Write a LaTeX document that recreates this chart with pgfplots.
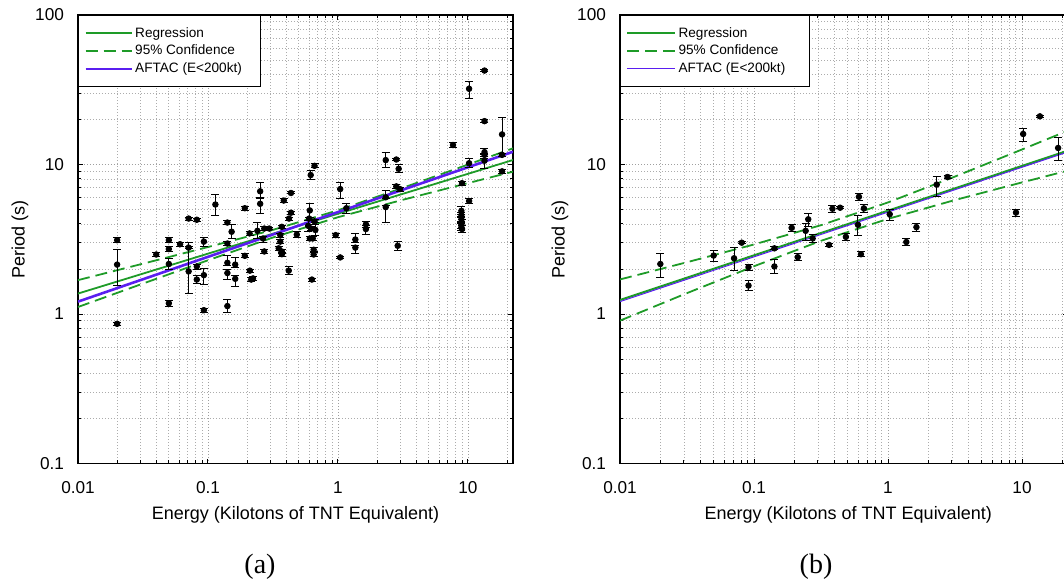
\documentclass[border=0pt]{standalone}
\usepackage{pgfplots}
\pgfplotsset{compat=1.18}
\usepackage{fontspec}
\setmainfont{Liberation Sans}
\newfontfamily\serifcap{Liberation Serif}
\definecolor{reggreen}{RGB}{30,155,40}
\definecolor{aftac}{RGB}{90,30,240}

\pgfplotsset{
    scale only axis,
    xmin=0.01, xmax=22.2, ymin=0.1, ymax=100,
    xtick={0.01,0.1,1,10}, xticklabels={0.01,0.1,1,10},
    ytick={0.1,1,10,100}, yticklabels={0.1,1,10,100},
    minor xtick={0.02,0.03,0.04,0.05,0.06,0.07,0.08,0.09,0.2,0.3,0.4,0.5,0.6,0.7,0.8,0.9,2,3,4,5,6,7,8,9,20},
    minor ytick={0.2,0.3,0.4,0.5,0.6,0.7,0.8,0.9,2,3,4,5,6,7,8,9,20,30,40,50,60,70,80,90},
    grid=both,
    major grid style={gray!75, line width=0.4pt, dash pattern=on 0.4pt off 1.1pt},
    minor grid style={gray!65, line width=0.4pt, dash pattern=on 0.4pt off 1.1pt},
    tick align=inside, major tick length=2.5pt, minor tick length=1.6pt,
    tick style={black, line width=0.5pt},
    axis line style={black, line width=0.7pt},
    ticklabel style={font=\fontsize{8.6}{10}\selectfont},
    xticklabel style={yshift=-5.5pt},
    yticklabel style={xshift=-3.5pt},
    every axis label/.append style={font=\fontsize{9}{11}\selectfont},
    legend style={at={(0,1)}, anchor=north west, draw=black, fill=white,
      inner xsep=3pt, inner ysep=4.5pt, row sep=0pt,
      font=\fontsize{6.8}{8}\selectfont,
      nodes={inner sep=1.1pt, text height=5.2pt, text depth=1.5pt}},
    legend cell align=left,
}
\pgfplotsset{
  pts/.style={only marks, mark=*, mark size=1.4pt, black, forget plot,
    mark options={solid, fill=black},
    error bars/y dir=both, error bars/y explicit,
    error bars/error bar style={black, line width=0.5pt, solid},
    error bars/error mark options={rotate=90, mark size=2pt, black, line width=0.5pt, solid}},
}

\begin{document}
\begin{tikzpicture}
\useasboundingbox (0,0) rectangle (532pt,292pt);
\clip (0,0) rectangle (532pt,292pt);

% ---------------- panel (a)
\begin{axis}[xmode=log, ymode=log, width=217.5pt, height=224.25pt,
  at={(39pt,60.25pt)}, anchor=south west,
  xlabel={Energy (Kilotons of TNT Equivalent)},
  ylabel={Period (s)},
  xlabel style={at={(axis description cs:0.5,-0.1136)}, anchor=center},
  ylabel style={at={(axis description cs:-0.1335,0.5)}, anchor=center}]
\addplot[reggreen, line width=0.9pt,
  legend image code/.code={\draw[reggreen, line width=0.9pt] (0pt,0pt) -- (23pt,0pt);}]
  coordinates {(0.01,1.37) (22.2,10.72)};
\addlegendentry{Regression}
\addplot[reggreen, line width=0.9pt, dash pattern=on 6pt off 3pt,
  legend image code/.code={\draw[reggreen, line width=0.9pt, dash pattern=on 6pt off 3pt] (0pt,0pt) -- (23pt,0pt);}]
  coordinates {
 (0.01,1.685) (0.0316,2.171) (0.1,2.805) (0.316,3.654) (1,4.941) (3.16,6.986) (10,9.99) (22.2,12.83)};
\addlegendentry{95\% Confidence}
\addplot[aftac, line width=1.3pt,
  legend image code/.code={\draw[aftac, line width=1.3pt] (0pt,0pt) -- (23pt,0pt);}]
  coordinates {(0.01,1.21) (22.2,12.17)};
\addlegendentry{AFTAC (E<200kt)\hspace*{5pt}}
\addplot[reggreen, line width=0.9pt, dash pattern=on 6pt off 3pt, forget plot] coordinates {
 (0.01,1.114) (0.0316,1.598) (0.1,2.288) (0.316,3.249) (1,4.442) (3.16,5.810) (10,7.510) (22.2,8.955)};
\addplot[pts] table[x=x, y=y, y error plus=ep, y error minus=em] {
x y ep em
0.02 3.12 0.12 0.12
0.02 2.14 0.55 0.58
0.02 0.86 0.02 0.02
0.040 2.50 0.08 0.08
0.05 3.12 0.12 0.12
0.05 2.72 0.10 0.10
0.05 2.16 0.18 0.18
0.05 1.18 0.05 0.05
0.061 2.93 0.10 0.10
0.071 4.35 0.10 0.10
0.082 4.27 0.10 0.10
0.071 2.78 0.05 0.05
0.071 1.93 1.08 0.56
0.082 2.08 0.08 0.08
0.082 1.70 0.10 0.10
0.093 3.05 0.20 0.20
0.093 1.82 0.21 0.24
0.093 1.06 0.03 0.03
0.114 5.40 0.86 0.83
0.141 4.09 0.10 0.10
0.152 3.55 0.41 0.35
0.141 2.96 0.10 0.10
0.141 2.20 0.26 0.10
0.141 1.88 0.10 0.18
0.141 1.13 0.12 0.10
0.162 2.14 0.23 0.10
0.162 1.72 0.10 0.19
0.192 5.10 0.15 0.15
0.209 3.46 0.10 0.10
0.192 2.45 0.08 0.08
0.210 1.95 0.05 0.05
0.215 1.70 0.05 0.05
0.222 1.73 0.05 0.05
0.252 6.62 0.98 0.72
0.252 5.46 0.58 0.77
0.240 3.60 0.50 0.40
0.271 3.73 0.10 0.10
0.265 3.20 0.10 0.20
0.271 2.62 0.08 0.08
0.296 3.73 0.08 0.08
0.383 5.74 0.15 0.15
0.435 6.45 0.10 0.10
0.435 4.76 0.10 0.10
0.420 4.35 0.10 0.10
0.370 3.83 0.10 0.10
0.360 3.37 0.10 0.10
0.360 3.05 0.10 0.10
0.370 2.62 0.08 0.08
0.370 2.51 0.08 0.08
0.350 2.75 0.08 0.08
0.418 1.95 0.12 0.12
0.482 3.40 0.15 0.15
0.607 4.93 0.53 0.48
0.600 4.35 0.10 0.10
0.590 3.89 0.30 0.30
0.620 3.73 0.10 0.10
0.660 4.17 0.10 0.10
0.670 3.65 0.30 0.30
0.607 3.20 0.10 0.10
0.640 3.20 0.10 0.10
0.650 2.69 0.08 0.08
0.650 2.50 0.08 0.08
0.630 1.70 0.04 0.04
0.617 8.50 0.60 0.60
0.660 9.80 0.30 0.30
0.960 3.37 0.10 0.10
1.04 6.85 0.75 0.90
1.04 2.39 0.05 0.05
1.16 5.10 0.40 0.40
1.36 3.15 0.30 0.15
1.36 2.78 0.10 0.25
1.64 3.98 0.20 0.10
1.64 3.70 0.10 0.30
2.33 10.7 1.30 1.15
2.33 6.04 0.64 0.10
2.33 5.19 0.10 1.11
2.81 10.8 0.20 0.20
2.93 9.36 0.60 0.50
2.81 7.14 0.20 0.20
3.00 6.85 0.20 0.20
2.88 2.86 0.20 0.20
7.67 13.5 0.60 0.60
9.00 7.50 0.25 0.25
8.90 4.90 0.30 0.30
8.90 4.60 0.20 0.20
8.90 4.30 0.20 0.20
8.95 4.10 0.20 0.20
8.90 3.95 0.20 0.20
8.90 3.80 0.20 0.20
9.00 3.70 0.20 0.20
10.2 10.2 0.70 0.70
10.2 32.1 3.80 4.30
10.2 5.70 0.20 0.20
13.4 42.5 0.80 0.80
13.4 19.5 0.40 0.40
13.4 12.1 0.70 0.50
13.4 11.6 0.30 0.30
13.4 10.6 0.30 1.24
18.3 15.9 4.70 4.60
18.3 11.6 0.30 0.30
18.3 9.00 0.30 0.30
};
\end{axis}

% ---------------- panel (b)
\begin{axis}[xmode=log, ymode=log, width=224.2pt, height=224.25pt,
  at={(310pt,60.25pt)}, anchor=south west,
  xlabel={Energy (Kilotons of TNT Equivalent)},
  ylabel={Period (s)},
  xlabel style={at={(axis description cs:0.509,-0.1136)}, anchor=center},
  ylabel style={at={(axis description cs:-0.1338,0.5)}, anchor=center}]
\addplot[reggreen, line width=1.0pt,
  legend image code/.code={\draw[reggreen, line width=1.0pt] (0pt,0pt) -- (24pt,0pt);}]
  coordinates {(0.01,1.24) (22.2,12.41)};
\addlegendentry{Regression}
\addplot[reggreen, line width=0.9pt, dash pattern=on 6pt off 3pt,
  legend image code/.code={\draw[reggreen, line width=0.9pt, dash pattern=on 6pt off 3pt] (0pt,0pt) -- (24pt,0pt);}]
  coordinates {
 (0.01,1.703) (0.0316,2.220) (0.1,2.919) (0.316,3.927) (1,5.576) (3.16,8.306) (10,12.60) (22.2,16.90)};
\addlegendentry{95\% Confidence}
\addplot[aftac, line width=0.5pt,
  legend image code/.code={\draw[aftac, line width=0.5pt] (0pt,0pt) -- (24pt,0pt);}]
  coordinates {(0.01,1.21) (22.2,12.17)};
\addlegendentry{AFTAC (E<200kt)\hspace*{8pt}}
\addplot[reggreen, line width=0.9pt, dash pattern=on 6pt off 3pt, forget plot] coordinates {
 (0.01,0.903) (0.0316,1.379) (0.1,2.087) (0.316,3.088) (1,4.329) (3.16,5.787) (10,7.590) (22.2,9.120)};
\addplot[pts] table[x=x, y=y, y error plus=ep, y error minus=em] {
x y ep em
0.020 2.16 0.39 0.40
0.050 2.46 0.19 0.21
0.071 2.36 0.43 0.41
0.081 3.00 0.06 0.06
0.091 2.06 0.10 0.10
0.091 1.55 0.12 0.12
0.142 2.75 0.06 0.06
0.142 2.08 0.22 0.20
0.191 3.77 0.20 0.20
0.212 2.40 0.12 0.12
0.243 3.60 0.42 0.51
0.254 4.30 0.43 0.43
0.274 3.20 0.18 0.18
0.363 2.90 0.05 0.05
0.385 5.06 0.25 0.25
0.439 5.14 0.08 0.08
0.485 3.28 0.18 0.18
0.607 6.08 0.35 0.35
0.661 5.09 0.30 0.30
0.597 3.95 0.58 0.61
0.628 2.51 0.10 0.10
1.03 4.65 0.36 0.42
1.37 3.03 0.17 0.17
1.63 3.81 0.25 0.25
2.31 7.34 0.99 1.19
2.78 8.25 0.15 0.15
9.02 4.77 0.25 0.25
10.2 16.0 1.40 1.70
13.6 21.0 0.30 0.30
18.6 12.9 2.30 2.20
};
\end{axis}

\node[font=\serifcap\fontsize{14}{16}\selectfont] at (130pt,8.5pt) {(a)};
\node[font=\serifcap\fontsize{14}{16}\selectfont] at (408pt,8.5pt) {(b)};
\end{tikzpicture}
\end{document}
